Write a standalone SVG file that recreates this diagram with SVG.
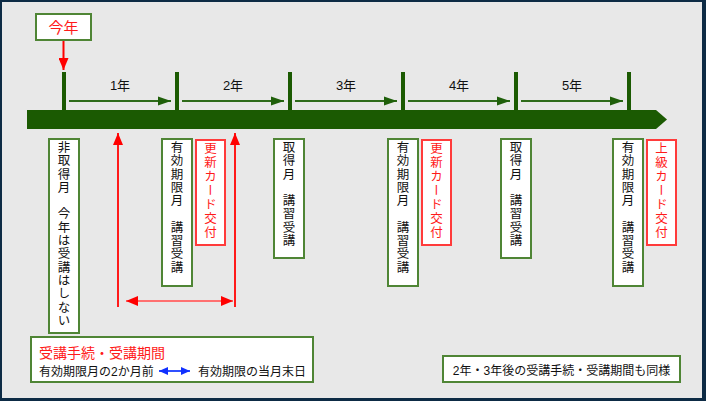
<svg xmlns="http://www.w3.org/2000/svg" width="706" height="401" viewBox="0 0 706 401">
<style>
.box{fill:#ffffff;stroke:#4f8535;stroke-width:2}
.rbox{fill:#ffffff;stroke:#ff3b3b;stroke-width:2}
.t{font-family:"Liberation Sans","Noto Sans CJK JP",sans-serif;fill:#111}
.v{font-family:"Noto Sans CJK JP",sans-serif;font-size:12.5px;letter-spacing:0.8px;writing-mode:vertical-rl;fill:#111}
.vr{fill:#ff1a1a;letter-spacing:1.5px}
.yr{stroke:#2e6b1a;stroke-width:2;fill:none}
.tick{fill:#1b5a02}
</style>
<defs>
<marker id="ga" markerUnits="userSpaceOnUse" markerWidth="13" markerHeight="10" refX="13" refY="5" orient="auto"><path d="M0,0.5 L13,5 L0,9.5 Z" fill="#1f5f0a"/></marker>
<marker id="ra" markerUnits="userSpaceOnUse" markerWidth="12" markerHeight="10" refX="12" refY="5" orient="auto-start-reverse"><path d="M0,0 L12,5 L0,10 Z" fill="#ff0000"/></marker>
<marker id="ba" markerUnits="userSpaceOnUse" markerWidth="9" markerHeight="8" refX="9" refY="4" orient="auto-start-reverse"><path d="M0,0 L9,4 L0,8 Z" fill="#1030ff"/></marker>
</defs>
<rect x="0" y="0" width="706" height="401" fill="#0d2b45"/>
<rect x="2" y="2" width="700" height="396" fill="#e8e8e8"/>

<g id="timeline">
<polygon points="27,110 656,110 667,119.5 656,129 27,129" fill="#1b5a02"/>
<rect class="tick" x="62" y="72" width="4" height="38"/>
<rect class="tick" x="175" y="72" width="4" height="38"/>
<rect class="tick" x="288" y="72" width="4" height="38"/>
<rect class="tick" x="401" y="72" width="4" height="38"/>
<rect class="tick" x="514" y="72" width="4" height="38"/>
<rect class="tick" x="627" y="72" width="4" height="38"/>
</g>

<g id="year-labels" class="t" font-size="13" text-anchor="middle">
<text x="120" y="90">1年</text>
<text x="233" y="90">2年</text>
<text x="346" y="90">3年</text>
<text x="459" y="90">4年</text>
<text x="572" y="90">5年</text>
</g>

<g id="this-year">
<rect class="box" x="36" y="14" width="55" height="26"/>
<text class="t" x="63.5" y="32.5" font-size="15" text-anchor="middle" style="fill:#ff1a1a">今年</text>
</g>

<g id="n1">
<rect class="box" x="49" y="139" width="30" height="194"/>
<text class="v" x="64" y="141">非取得月　今年は受講はしない</text>
</g>
<g id="n2">
<rect class="box" x="162" y="139" width="30" height="147"/>
<text class="v" x="177" y="141">有効期限月　講習受講</text>
</g>
<g id="n2r">
<rect class="rbox" x="196" y="140" width="29" height="105"/>
<text class="v vr" x="210.5" y="142">更新カード交付</text>
</g>
<g id="n3">
<rect class="box" x="274" y="139" width="30" height="119"/>
<text class="v" x="289" y="141">取得月　講習受講</text>
</g>
<g id="n4">
<rect class="box" x="388" y="139" width="30" height="147"/>
<text class="v" x="403" y="141">有効期限月　講習受講</text>
</g>
<g id="n4r">
<rect class="rbox" x="422" y="140" width="29" height="105"/>
<text class="v vr" x="436.5" y="142">更新カード交付</text>
</g>
<g id="n5">
<rect class="box" x="501" y="139" width="30" height="119"/>
<text class="v" x="516" y="141">取得月　講習受講</text>
</g>
<g id="n6">
<rect class="box" x="613" y="139" width="30" height="147"/>
<text class="v" x="628" y="141">有効期限月　講習受講</text>
</g>
<g id="n6r">
<rect class="rbox" x="647" y="140" width="29" height="105"/>
<text class="v vr" x="661.5" y="142">上級カード交付</text>
</g>

<g id="legend">
<rect class="box" x="31" y="337" width="282" height="45"/>
<text class="t" x="39" y="358" font-size="14" style="fill:#ff1a1a">受講手続・受講期間</text>
<text class="t" x="39" y="376" font-size="12">有効期限月の2か月前</text>
<text class="t" x="198" y="376" font-size="12">有効期限の当月末日</text>
</g>

<g id="note">
<rect class="box" x="443" y="356" width="237" height="26"/>
<text class="t" x="561.5" y="375" font-size="12" text-anchor="middle">2年・3年後の受講手続・受講期間も同様</text>
</g>

<g id="connectors">
<line class="yr" x1="69" y1="101" x2="171" y2="101" marker-end="url(#ga)"/>
<line class="yr" x1="182" y1="101" x2="284" y2="101" marker-end="url(#ga)"/>
<line class="yr" x1="295" y1="101" x2="397" y2="101" marker-end="url(#ga)"/>
<line class="yr" x1="408" y1="101" x2="510" y2="101" marker-end="url(#ga)"/>
<line class="yr" x1="521" y1="101" x2="623" y2="101" marker-end="url(#ga)"/>
<line x1="63.5" y1="41" x2="63.5" y2="70" stroke="#ff0000" stroke-width="2" marker-end="url(#ra)"/>
<line x1="118" y1="307" x2="118" y2="133" stroke="#ff1a1a" stroke-width="2" marker-end="url(#ra)"/>
<line x1="235" y1="307" x2="235" y2="133" stroke="#ff1a1a" stroke-width="2" marker-end="url(#ra)"/>
<line x1="126" y1="301" x2="233" y2="301" stroke="#ff7070" stroke-width="2" marker-start="url(#ra)" marker-end="url(#ra)"/>
<line x1="159" y1="371" x2="190" y2="371" stroke="#3050ff" stroke-width="2" marker-start="url(#ba)" marker-end="url(#ba)"/>
</g>
</svg>
